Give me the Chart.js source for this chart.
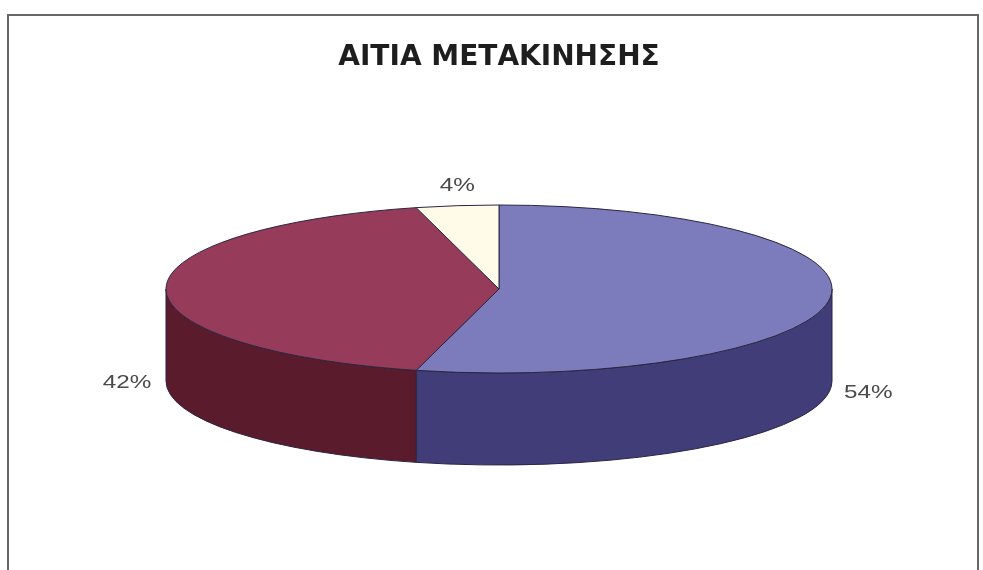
<!DOCTYPE html>
<html lang="el">
<head>
<meta charset="utf-8">
<title>ΑΙΤΙΑ ΜΕΤΑΚΙΝΗΣΗΣ</title>
<script src="https://cdn.jsdelivr.net/npm/chart.js@4.4.1/dist/chart.umd.min.js"></script>
<style>
  html, body { margin: 0; padding: 0; background: #fff; overflow: hidden; }
  #frame {
    position: absolute; left: 7px; top: 14px; width: 968px; height: 600px;
    border: 2px solid #666; border-bottom: none;
  }
  #chart { position: absolute; left: 0; top: 0; }
</style>
</head>
<body>
<div id="frame"></div>
<canvas id="chart" width="983" height="570"></canvas>
<script>
// Δεδομένα (ποσοστά ανά αιτία)
const categories = ['Αιτία Α', 'Αιτία Β', 'Αιτία Γ'];
const shares = [54, 42, 4];
const valueLabels = shares.map(v => v + '%');

// Χρώματα: επάνω επιφάνεια / πλαϊνό τοίχωμα
const topColors = ['#7c7cbc', '#973b5b', '#fffbe8'];
const sideColors = ['#403d78', '#5a1b2c', '#d8d2b0'];

// --- Plugin: ψευδο-3D πίτα (έλλειψη + πάχος) ---
const pie3d = {
  id: 'pie3d',
  beforeDatasetsDraw(chart) {
    const ctx = chart.ctx;
    const o = chart.options.plugins.pie3d;
    const arcs = chart.getDatasetMeta(0).data;
    const ref = arcs[0];
    const sx = o.radiusX / ref.outerRadius;
    const sy = o.radiusY / ref.outerRadius;

    // εκτελεί fn με τον κύκλο του Chart.js προβεβλημένο σε έλλειψη
    const onEllipse = (dy, fn) => {
      ctx.save();
      ctx.translate(ref.x, o.centerY + dy);
      ctx.scale(sx, sy);
      ctx.translate(-ref.x, -ref.y);
      fn();
      ctx.restore();
    };

    ctx.save();
    ctx.lineWidth = 1;
    ctx.lineJoin = 'round';
    ctx.strokeStyle = o.edgeColor;

    // 1. Πλαϊνά τοιχώματα (μόνο το μπροστινό μισό, 0..π)
    arcs.forEach((arc, i) => {
      const a0 = Math.max(arc.startAngle, 0);
      const a1 = Math.min(arc.endAngle, Math.PI);
      if (a1 <= a0) return;
      ctx.beginPath();
      onEllipse(0, () => ctx.arc(arc.x, arc.y, arc.outerRadius, a0, a1));
      onEllipse(o.depth, () => ctx.arc(arc.x, arc.y, arc.outerRadius, a1, a0, true));
      ctx.closePath();
      ctx.fillStyle = sideColors[i];
      ctx.fill();
      ctx.stroke();
    });

    // 2. Επάνω επιφάνεια
    arcs.forEach((arc) => {
      ctx.beginPath();
      onEllipse(0, () => {
        ctx.moveTo(arc.x, arc.y);
        ctx.arc(arc.x, arc.y, arc.outerRadius, arc.startAngle, arc.endAngle);
        ctx.closePath();
      });
      ctx.fillStyle = arc.options.backgroundColor;
      ctx.fill();
      ctx.stroke();
    });

    // 3. Ετικέτες ποσοστών
    ctx.fillStyle = o.labelColor;
    ctx.font = o.labelFont;
    ctx.textAlign = 'center';
    ctx.textBaseline = 'middle';
    arcs.forEach((arc, i) => {
      const mid = (arc.startAngle + arc.endAngle) / 2;
      const dx = Math.cos(mid), dy = Math.sin(mid);
      let lx = ref.x + o.radiusX * dx;
      let ly = o.centerY + o.radiusY * dy;
      if (dy > -0.5) {
        lx += Math.sign(dx) * 39;
        ly += o.depth + 2;
      } else {
        ly -= 20;
      }
      ctx.save();
      ctx.translate(lx, ly);
      ctx.scale(o.labelStretch, 1);
      ctx.fillText(valueLabels[i], 0, 0);
      ctx.restore();
    });

    ctx.restore();
    return false; // η προεπιλεγμένη σχεδίαση παραλείπεται
  }
};

new Chart(document.getElementById('chart').getContext('2d'), {
  type: 'pie',
  data: {
    labels: categories,
    datasets: [{
      data: shares,
      backgroundColor: topColors,
      borderColor: '#2b2540',
      borderWidth: 1
    }]
  },
  options: {
    responsive: false,
    animation: false,
    layout: { padding: { left: 15, top: 10 } },
    plugins: {
      legend: { display: false },
      tooltip: { enabled: false },
      title: {
        display: true,
        text: 'ΑΙΤΙΑ ΜΕΤΑΚΙΝΗΣΗΣ',
        color: '#1e1e1e',
        font: { family: "'DejaVu Sans', sans-serif", size: 28, weight: 'bold' },
        padding: { top: 31, bottom: 10 }
      },
      pie3d: {
        centerY: 289,
        radiusX: 333,
        radiusY: 84,
        depth: 92,
        edgeColor: '#2b2540',
        labelColor: '#4a4a4a',
        labelFont: "18px 'Liberation Sans', Arial, sans-serif",
        labelStretch: 1.35
      }
    }
  },
  plugins: [pie3d]
});
</script>
</body>
</html>
